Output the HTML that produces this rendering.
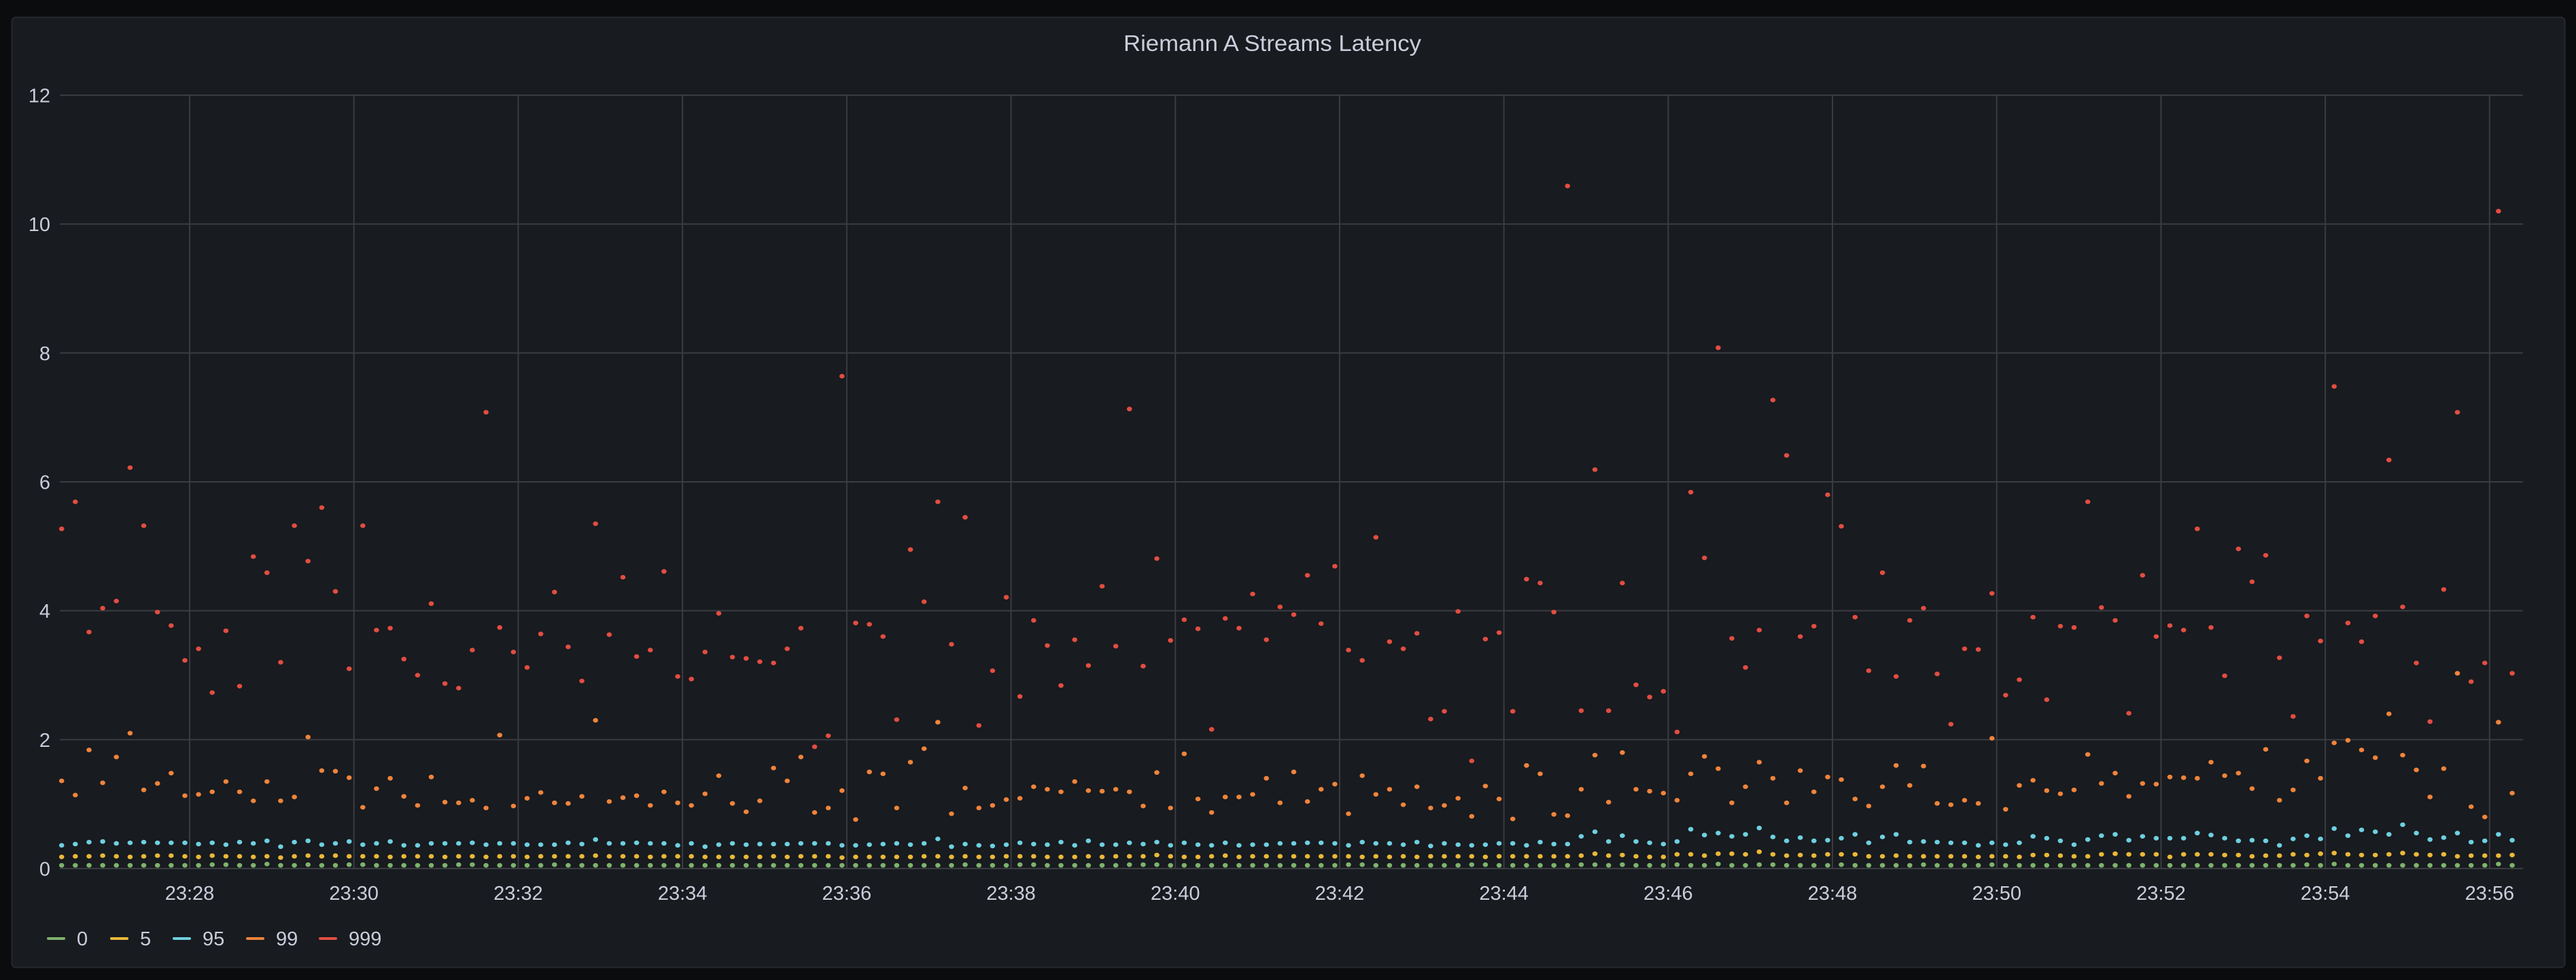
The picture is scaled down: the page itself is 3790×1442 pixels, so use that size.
<!DOCTYPE html>
<html><head><meta charset="utf-8"><title>Riemann A Streams Latency</title>
<style>
html,body{margin:0;padding:0;background:#0b0c0e;}
svg{display:block;}
text{font-family:"Liberation Sans",sans-serif;fill:#ccccdc;}
</style></head>
<body>
<svg id="chart" width="3790" height="1442" viewBox="0 0 3790 1442" xmlns="http://www.w3.org/2000/svg">
<rect x="0" y="0" width="3790" height="1442" fill="#0b0c0e"/>
<rect x="17.5" y="25.5" width="3756" height="1398" rx="6" fill="#181b1f" stroke="#25282d" stroke-width="2"/>
<text x="1872" y="75" text-anchor="middle" font-size="33" textLength="438" lengthAdjust="spacingAndGlyphs">Riemann A Streams Latency</text>
<g id="grid"></g>
<g id="yaxis"></g>
<g id="xaxis"></g>
<g id="series"></g>
<g id="legend"></g>
</svg>
<script>
// ---- data ----
const seriesNames = ["0", "5", "95", "99", "999"];
const seriesColors = ["#7eb26d", "#eab839", "#6ed0e0", "#ef843c", "#e24d42"];
const yTicks = [0, 2, 4, 6, 8, 10, 12];
const xTickLabels = ["23:28","23:30","23:32","23:34","23:36","23:38","23:40","23:42","23:44","23:46","23:48","23:50","23:52","23:54","23:56"];
const startSeconds = 1586.5; // seconds after 23:00 of first sample
const intervalSeconds = 10;

const p0 = [
0.05,0.05,0.05,0.05,0.05,0.05,0.05,0.05,0.05,0.05,
0.05,0.06,0.06,0.05,0.05,0.07,0.05,0.05,0.06,0.05,
0.05,0.06,0.06,0.05,0.05,0.05,0.05,0.05,0.05,0.06,
0.06,0.05,0.05,0.05,0.05,0.05,0.06,0.05,0.05,0.05,
0.05,0.05,0.05,0.05,0.05,0.05,0.05,0.05,0.05,0.05,
0.05,0.05,0.05,0.05,0.05,0.05,0.05,0.05,0.05,0.05,
0.05,0.05,0.05,0.05,0.05,0.05,0.06,0.05,0.05,0.05,
0.06,0.06,0.05,0.05,0.05,0.05,0.05,0.05,0.06,0.06,
0.06,0.05,0.05,0.05,0.05,0.05,0.05,0.05,0.05,0.05,
0.05,0.05,0.05,0.05,0.06,0.06,0.05,0.05,0.05,0.05,
0.05,0.05,0.05,0.06,0.06,0.05,0.05,0.05,0.05,0.05,
0.05,0.06,0.06,0.05,0.06,0.05,0.05,0.05,0.06,0.05,
0.05,0.07,0.05,0.05,0.06,0.06,0.05,0.05,0.05,0.05,
0.06,0.05,0.05,0.05,0.05,0.05,0.06,0.05,0.05,0.05,
0.05,0.06,0.05,0.05,0.05,0.05,0.05,0.05,0.05,0.05,
0.05,0.05,0.05,0.05,0.05,0.05,0.05,0.05,0.05,0.05,
0.05,0.05,0.05,0.05,0.06,0.05,0.07,0.05,0.05,0.05,
0.05,0.05,0.05,0.05,0.05,0.05,0.05,0.05,0.07,0.05
];
const p5 = [
0.18,0.19,0.19,0.20,0.19,0.18,0.19,0.20,0.20,0.19,
0.18,0.20,0.19,0.19,0.18,0.19,0.17,0.19,0.20,0.19,
0.20,0.19,0.19,0.19,0.18,0.19,0.19,0.19,0.18,0.19,
0.19,0.18,0.19,0.19,0.18,0.19,0.19,0.19,0.19,0.20,
0.19,0.19,0.19,0.18,0.19,0.19,0.19,0.18,0.18,0.18,
0.18,0.18,0.19,0.18,0.19,0.19,0.19,0.17,0.18,0.18,
0.18,0.18,0.18,0.19,0.19,0.18,0.19,0.18,0.18,0.19,
0.19,0.19,0.18,0.18,0.18,0.19,0.18,0.19,0.19,0.19,
0.21,0.19,0.18,0.18,0.19,0.20,0.18,0.19,0.19,0.19,
0.19,0.19,0.19,0.19,0.19,0.18,0.19,0.18,0.19,0.18,
0.19,0.19,0.19,0.19,0.18,0.19,0.19,0.19,0.19,0.19,
0.19,0.20,0.23,0.20,0.21,0.19,0.18,0.18,0.22,0.22,
0.20,0.23,0.23,0.22,0.26,0.22,0.20,0.21,0.20,0.22,
0.22,0.22,0.19,0.19,0.20,0.19,0.19,0.19,0.19,0.19,
0.18,0.19,0.19,0.18,0.21,0.21,0.20,0.19,0.19,0.22,
0.23,0.22,0.22,0.22,0.18,0.22,0.22,0.22,0.21,0.21,
0.19,0.20,0.20,0.22,0.21,0.23,0.24,0.22,0.21,0.21,
0.22,0.24,0.22,0.21,0.22,0.19,0.20,0.20,0.20,0.21
];
const p95 = [
0.36,0.38,0.41,0.42,0.39,0.40,0.41,0.40,0.40,0.40,0.38,0.40,0.37,0.41,0.39,0.43,0.34,0.41,0.43,0.37,
0.39,0.42,0.37,0.39,0.42,0.36,0.36,0.39,0.39,0.39,0.40,0.37,0.39,0.39,0.37,0.37,0.37,0.40,0.38,0.45,
0.39,0.39,0.40,0.39,0.39,0.36,0.39,0.34,0.37,0.39,0.37,0.38,0.38,0.38,0.39,0.39,0.39,0.36,0.36,0.37,
0.38,0.39,0.37,0.39,0.46,0.34,0.38,0.36,0.35,0.37,0.40,0.38,0.37,0.41,0.36,0.43,0.37,0.37,0.40,0.38,
0.41,0.36,0.40,0.37,0.36,0.40,0.36,0.37,0.37,0.39,0.39,0.40,0.40,0.39,0.36,0.41,0.39,0.39,0.37,0.41,
0.35,0.39,0.37,0.36,0.37,0.39,0.39,0.36,0.41,0.38,0.38,0.50,0.57,0.42,0.51,0.42,0.40,0.38,0.42,0.61,
0.52,0.55,0.50,0.53,0.63,0.49,0.43,0.48,0.43,0.44,0.47,0.53,0.40,0.49,0.53,0.41,0.42,0.41,0.40,0.40,
0.36,0.40,0.37,0.40,0.50,0.47,0.43,0.37,0.45,0.51,0.53,0.44,0.50,0.47,0.47,0.47,0.55,0.52,0.47,0.43,
0.44,0.43,0.36,0.46,0.51,0.46,0.62,0.51,0.60,0.57,0.53,0.68,0.55,0.45,0.48,0.55,0.41,0.43,0.53,0.44
];
const p99 = [
1.36,1.14,1.84,1.33,1.73,2.10,1.22,1.32,1.48,1.13,1.15,1.19,1.35,1.19,1.05,1.35,1.05,1.11,2.04,1.52,
1.51,1.41,0.95,1.24,1.40,1.12,0.98,1.42,1.03,1.02,1.06,0.94,2.07,0.97,1.09,1.18,1.02,1.01,1.12,2.30,
1.04,1.10,1.13,0.98,1.19,1.02,0.98,1.16,1.44,1.01,0.88,1.05,1.56,1.36,1.73,0.87,0.94,1.21,0.76,1.50,
1.47,0.94,1.65,1.86,2.27,0.85,1.25,0.94,0.98,1.07,1.09,1.27,1.23,1.19,1.35,1.21,1.20,1.23,1.19,0.97,
1.49,0.94,1.78,1.08,0.87,1.11,1.11,1.15,1.40,1.02,1.50,1.04,1.23,1.31,0.85,1.44,1.15,1.23,0.99,1.27,
0.94,0.98,1.09,0.81,1.28,1.08,0.77,1.60,1.47,0.84,0.82,1.23,1.76,1.03,1.80,1.23,1.20,1.17,1.06,1.47,
1.74,1.55,1.02,1.27,1.65,1.40,1.02,1.52,1.19,1.42,1.38,1.08,0.97,1.27,1.60,1.29,1.59,1.01,0.99,1.06,
1.01,2.02,0.92,1.29,1.37,1.21,1.16,1.22,1.77,1.32,1.48,1.12,1.32,1.31,1.42,1.41,1.40,1.65,1.44,1.48,
1.24,1.85,1.06,1.22,1.67,1.40,1.95,1.99,1.84,1.72,2.40,1.76,1.53,1.11,1.55,3.03,0.96,0.80,2.27,1.17
];
const p999 = [
5.27,5.69,3.67,4.04,4.15,6.22,5.32,3.98,3.77,3.23,3.41,2.73,3.69,2.83,4.84,4.59,3.20,5.32,4.77,5.60,
4.30,3.10,5.32,3.70,3.73,3.25,3.00,4.11,2.87,2.80,3.39,7.08,3.74,3.36,3.12,3.64,4.29,3.44,2.91,5.35,
3.63,4.52,3.29,3.39,4.61,2.98,2.94,3.36,3.96,3.28,3.26,3.21,3.19,3.41,3.73,1.89,2.06,7.64,3.81,3.79,
3.60,2.31,4.95,4.14,5.69,3.48,5.45,2.22,3.07,4.21,2.67,3.85,3.46,2.84,3.55,3.15,4.38,3.45,7.13,3.14,
4.81,3.54,3.86,3.72,2.16,3.88,3.73,4.26,3.55,4.06,3.94,4.55,3.80,4.69,3.39,3.23,5.14,3.52,3.41,3.65,
2.32,2.44,3.99,1.67,3.56,3.66,2.44,4.49,4.43,3.98,10.59,2.45,6.19,2.45,4.43,2.85,2.66,2.75,2.12,5.84,
4.82,8.08,3.57,3.12,3.70,7.27,6.41,3.60,3.76,5.80,5.31,3.90,3.07,4.59,2.98,3.85,4.04,3.02,2.24,3.41,
3.40,4.27,2.69,2.93,3.90,2.62,3.76,3.74,5.69,4.05,3.85,2.41,4.55,3.60,3.77,3.70,5.27,3.74,2.99,4.96,
4.45,4.86,3.27,2.36,3.92,3.53,7.48,3.81,3.52,3.92,6.34,4.06,3.19,2.28,4.33,7.08,2.90,3.19,10.20,3.03
];
const seriesValues = [p0, p5, p95, p99, p999];

// ---- scales ----
const NS = "http://www.w3.org/2000/svg";
const plotLeft = 88, plotRight = 3712, plotTop = 140, plotBottom = 1278;
const yMax = 12;
function yScale(v){ return plotBottom - (v / yMax) * (plotBottom - plotTop); }
const pxPerSecond = 2.0142, refSeconds = 1680, refX = 279; // 23:28 -> x 279
function xScale(sec){ return refX + (sec - refSeconds) * pxPerSecond; }
function labelToSeconds(lbl){ const p = lbl.split(":"); return (parseInt(p[0],10)-23)*3600 + parseInt(p[1],10)*60; }
function mk(tag, attrs, parent){
  const el = document.createElementNS(NS, tag);
  for (const k in attrs) el.setAttribute(k, attrs[k]);
  parent.appendChild(el);
  return el;
}

const grid = document.getElementById("grid");
const yaxis = document.getElementById("yaxis");
const xaxis = document.getElementById("xaxis");
const series = document.getElementById("series");
const legend = document.getElementById("legend");

yTicks.forEach(function(t){
  const y = yScale(t);
  const ln = mk("line", {x1: plotLeft, x2: plotRight, y1: y, y2: y, stroke: "#3a3c41", "stroke-width": 2}, grid);
  
  
  const tx = mk("text", {x: 74, y: y + 10.5, "text-anchor": "end", "font-size": 29}, yaxis);
  tx.textContent = String(t);
  
  
});

xTickLabels.forEach(function(lbl){
  const x = xScale(labelToSeconds(lbl));
  const ln = mk("line", {x1: x, x2: x, y1: plotTop, y2: plotBottom, stroke: "#3a3c41", "stroke-width": 2}, grid);
  
  
  const tx = mk("text", {x: x, y: 1324, "text-anchor": "middle", "font-size": 29}, xaxis);
  tx.textContent = lbl;
  
  
});

seriesValues.forEach(function(vals, si){
  const g = mk("g", {fill: seriesColors[si]}, series);
  
  
  vals.forEach(function(v, i){
    const c = mk("ellipse", {cx: xScale(startSeconds + i * intervalSeconds).toFixed(1), cy: yScale(v).toFixed(1), rx: 3.8, ry: 3.4}, g);
    
    
  });
});

const legendX = [69, 162, 254, 362, 469];
seriesNames.forEach(function(name, si){
  const g = mk("g", {}, legend);
  
  
  mk("rect", {x: legendX[si], y: 1379, width: 27, height: 4, rx: 2, fill: seriesColors[si]}, g);
  const tx = mk("text", {x: legendX[si] + 44, y: 1391, "font-size": 29}, g);
  tx.textContent = name;
});
</script>
</body></html>
